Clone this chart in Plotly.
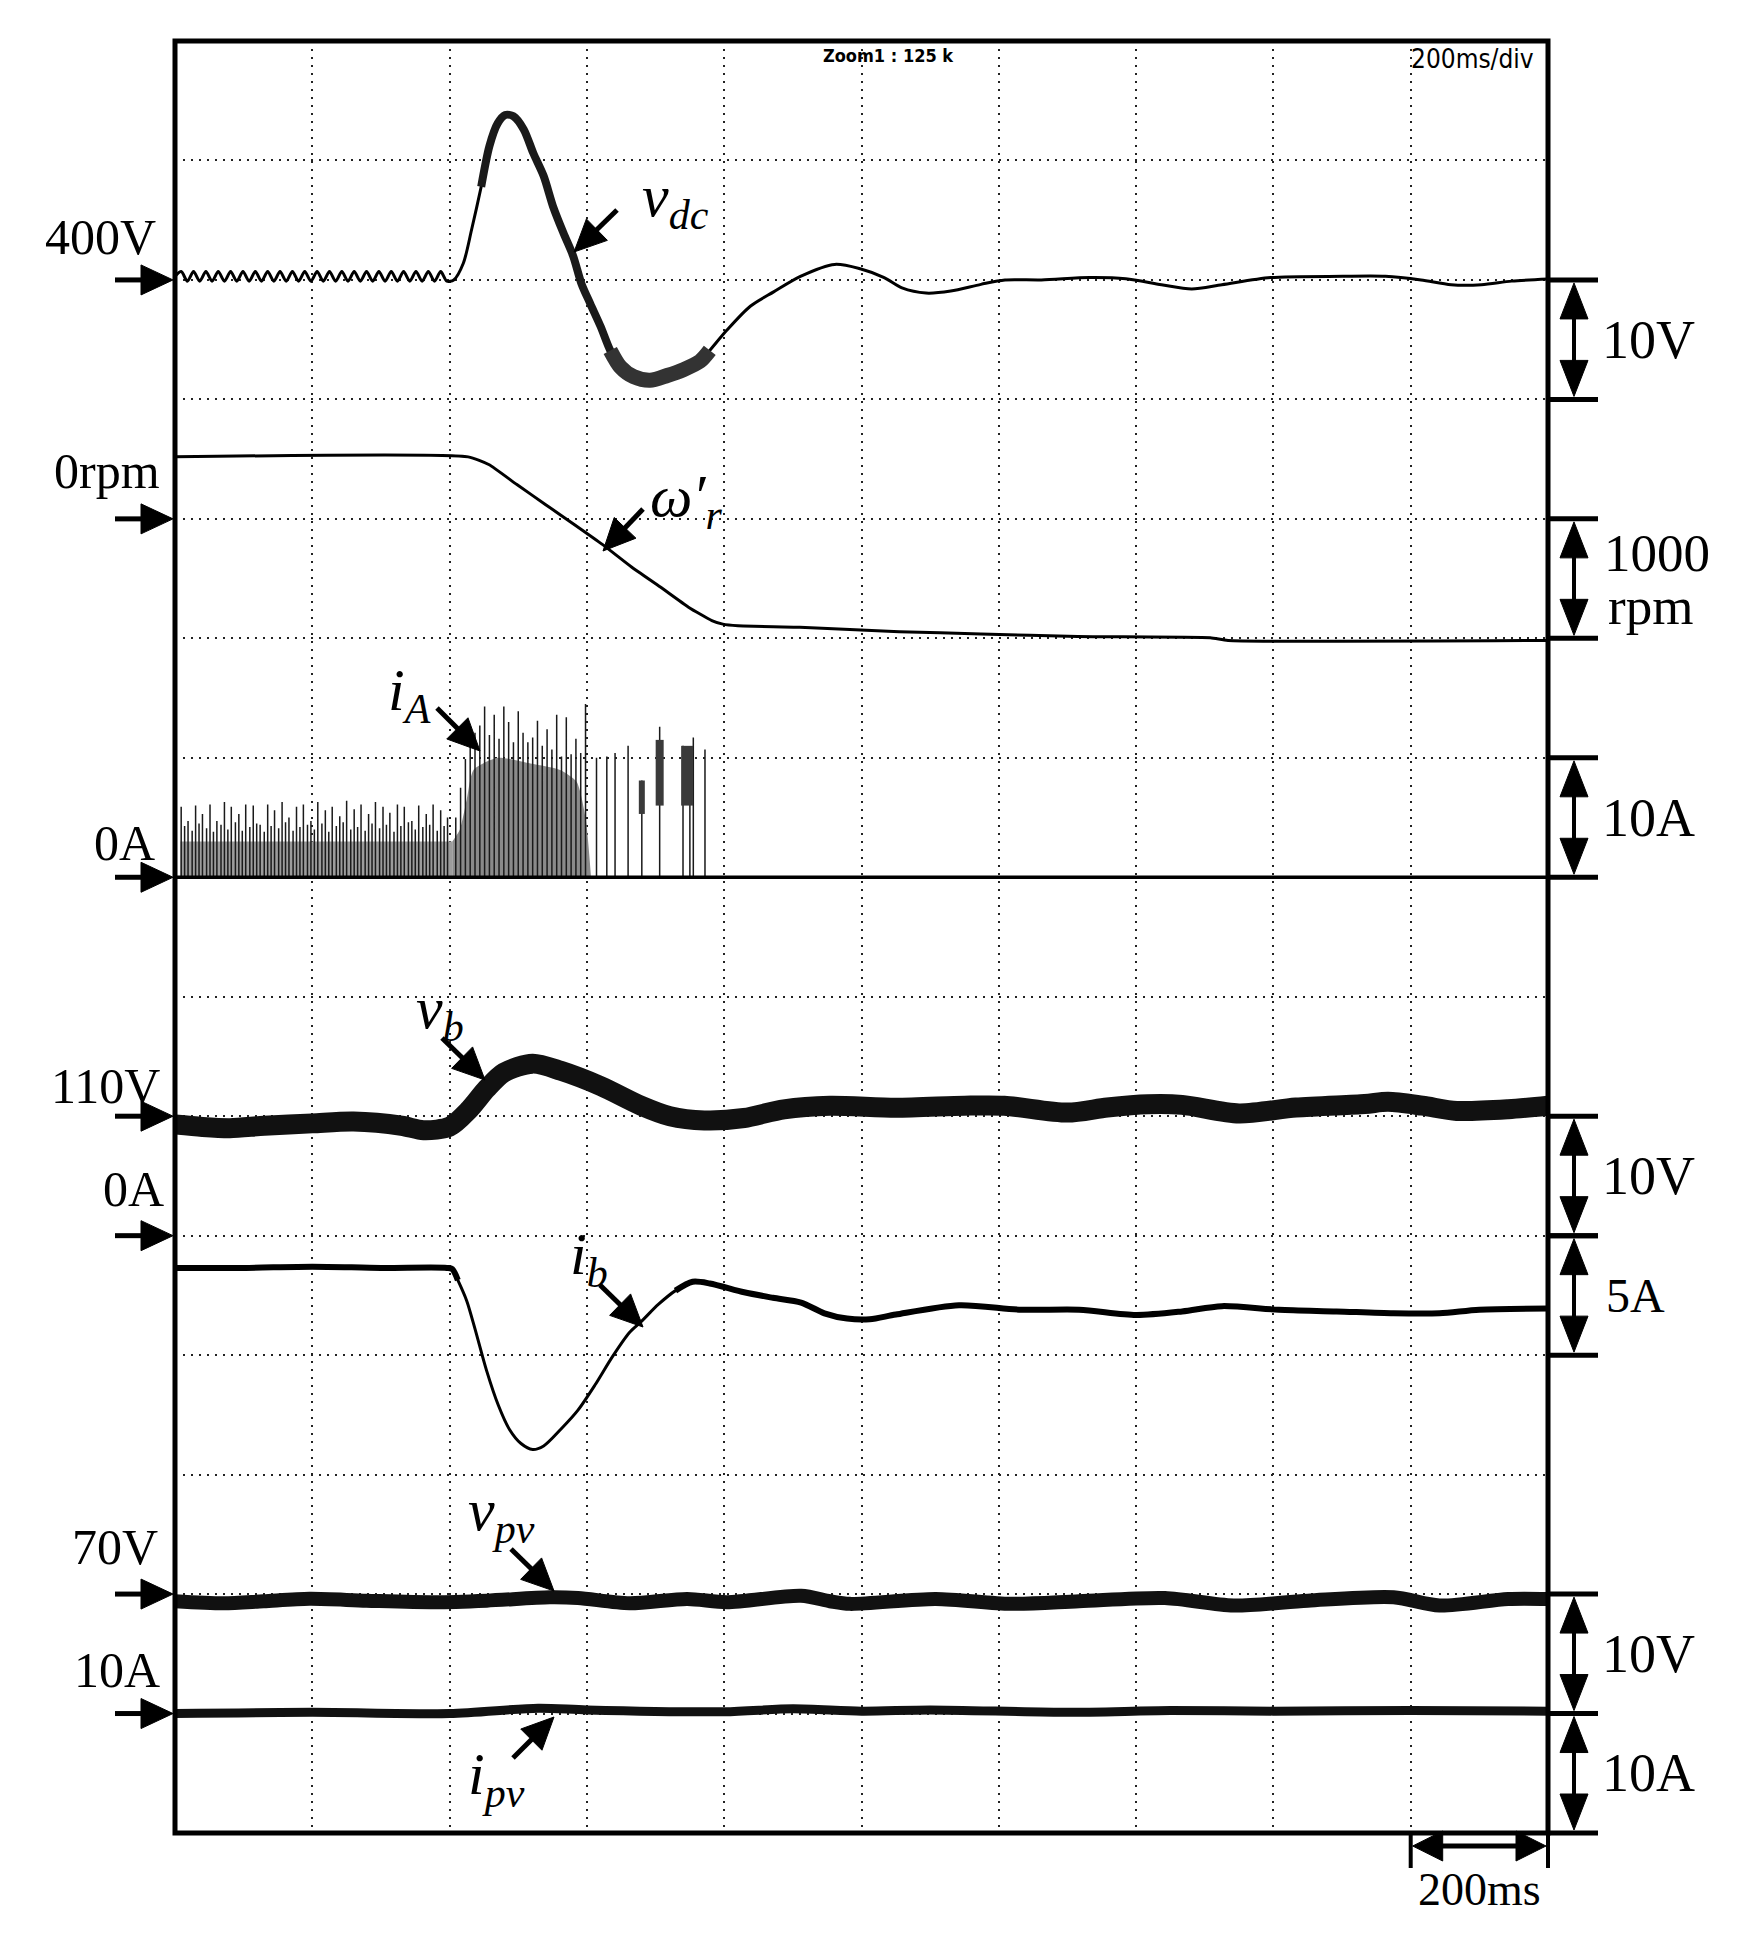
import math
import plotly.graph_objects as go

OFF = 8                                    # page body margin in the browser
W, H = 1748 - OFF, 1958 - OFF              # figure size
PL, PR, PT, PB = 175, 1548, 41, 1833      # plot box in page pixels
NX, NY = 10, 15                            # divisions
DIVPX_Y = (PB - PT) / NY

# ---------------- data (time in ms, values in physical units) ----------------
# v_dc : deviation from 400 V, 10 V/div, reference at 13 div
vdc_t = [0, 9, 18, 27, 36, 45, 54, 63, 72, 81, 90, 99, 108, 117, 126, 135, 144, 153,
         162, 171, 180, 189, 198, 207, 216, 225, 234, 243, 252, 261, 270, 279, 288,
         297, 306, 315, 324, 333, 342, 351, 360, 369, 378, 387, 396, 406,
         420, 432, 446, 458, 470, 481, 493, 508, 522, 537, 551, 566, 580, 592, 605,
         620, 634, 649, 668, 692, 717, 741, 765, 779, 804, 838, 872, 911, 961, 998,
         1033, 1059, 1094, 1130, 1174, 1209, 1262, 1332, 1385, 1437, 1481, 1525,
         1596, 1701, 1763, 1815, 1859, 1903, 1947, 2000]
vdc_v = [0.3, 0.7, -0.1, 0.7, -0.1, 0.7, -0.1, 0.7, -0.1, 0.7, -0.1, 0.7, -0.1, 0.7,
         -0.1, 0.7, -0.1, 0.7, -0.1, 0.7, -0.1, 0.7, -0.1, 0.7, -0.1, 0.7, -0.1, 0.7,
         -0.1, 0.7, -0.1, 0.7, -0.1, 0.7, -0.1, 0.7, -0.1, 0.7, -0.1, 0.7, -0.1, 0.7,
         -0.1, 0.7, -0.1, 0.0,
         1.4, 4.2, 7.8, 11.2, 13.1, 13.8, 13.7, 12.6, 10.6, 8.7, 6.1, 3.9, 2.0, -0.3,
         -2.0, -3.9, -5.9, -7.3, -8.1, -8.4, -8.0, -7.5, -6.8, -5.9, -4.2, -2.2, -1.0,
         0.3, 1.3, 0.93, 0.19, -0.67, -1.1, -0.93, -0.37, 0.0, 0.0, 0.2, 0.1, -0.4,
         -0.75, -0.4, 0.2, 0.3, 0.3, 0.0, -0.4, -0.4, -0.1, 0.07]

# omega_r : rpm, 1000 rpm/div, 0 rpm at 11 div
wr_t = [0, 427, 457, 498, 540, 582, 623, 665, 707, 748, 782, 798, 820, 910, 1055,
        1174, 1315, 1508, 1534, 2000]
wr_v = [519, 519, 455, 287, 119, -49, -216, -403, -571, -739, -851, -881, -895,
        -907, -944, -963, -985, -995, -1018, -1018]

# i_A : A, 10 A/div, 0 A at 8 div  (switching pulses: times and peak heights)
iA_pre_t = [9, 19, 30, 40, 51, 61, 72, 82, 93, 103, 114, 124, 135, 145, 156, 166,
            177, 187, 198, 208, 219, 229, 240, 250, 261, 271, 282, 292, 303, 313,
            324, 334, 345, 355, 366, 376, 387, 397]
iA_pre_h = [5.9, 4.7, 6.0, 5.3, 6.1, 4.7, 6.3, 5.9, 5.3, 6.1, 6.0, 4.4, 6.1, 5.6,
            6.3, 5.0, 5.9, 6.1, 4.7, 6.3, 5.6, 5.9, 5.1, 6.4, 5.7, 6.1, 5.3, 6.3,
            5.9, 5.4, 6.1, 5.9, 4.7, 6.0, 5.3, 6.1, 5.6, 5.0]
iA_mid_t = [14, 25, 35, 46, 56, 67, 77, 88, 98, 109, 119, 130, 140, 151, 161, 172,
            182, 193, 203, 214, 224, 235, 245, 256, 266, 277, 287, 298, 308, 319,
            329, 340, 350, 361, 371, 382, 392]
iA_mid_h = [4.3, 3.9, 4.5, 4.1, 3.8, 4.4, 4.0, 4.6, 3.9, 4.2, 4.5, 3.8, 4.3, 4.1,
            4.6, 3.9, 4.2, 4.4, 4.0, 4.5, 3.8, 4.3, 4.6, 4.0, 4.2, 3.9, 4.5, 4.1,
            4.4, 3.8, 4.3, 4.6, 4.0, 4.2, 4.4, 3.9, 4.3]
iA_post_t = [409, 416, 423, 430, 437, 444, 451, 458, 465, 472, 479, 486, 493, 500,
             507, 514, 521, 528, 535, 542, 549, 556, 563, 570, 577, 584, 591, 598,
             614, 629, 641, 660, 680, 706, 740, 750, 755, 772]
iA_post_h = [5.0, 7.5, 9.9, 11.0, 12.1, 12.7, 14.3, 11.9, 13.6, 11.6, 14.3, 13.0,
             11.3, 13.9, 12.1, 11.3, 11.7, 13.1, 11.0, 12.4, 10.7, 13.6, 10.1, 13.4,
             10.3, 11.6, 10.4, 14.5, 10.0, 10.1, 10.4, 11.0, 8.1, 12.6, 11.0, 8.7,
             11.7, 10.7]
iA_pre_env_t = [8, 400, 404]
iA_pre_env_v = [3.0, 3.0, 3.0]
iA_post_env_t = [404, 415, 425, 435, 470, 520, 560, 585, 598, 606]
iA_post_env_v = [3.0, 4.0, 6.5, 9.0, 10.0, 9.5, 9.0, 8.0, 5.0, 0.0]
# bursts after the step: time, low, high
iA_blob_t = [680, 706, 746]
iA_blob_lo = [5.3, 6.0, 6.0]
iA_blob_hi = [8.1, 11.5, 11.0]
iA_blob_w = [6, 8, 12]

# v_b : deviation from 110 V, 10 V/div, reference at 6 div
vb_t = [0, 40, 80, 130, 200, 260, 330, 362, 400, 429, 454, 479, 521, 562, 621, 679,
        721, 771, 829, 887, 954, 1050, 1150, 1208, 1300, 1358, 1417, 1467, 1550,
        1633, 1733, 1767, 1817, 1867, 1942, 2000]
vb_v = [-0.7, -0.9, -1.0, -0.8, -0.6, -0.45, -0.8, -1.17, -0.88, 0.58, 2.3, 3.65,
        4.4, 3.8, 2.5, 0.88, 0.0, -0.35, -0.15, 0.58, 0.88, 0.7, 0.88, 0.88, 0.3,
        0.73, 1.0, 0.95, 0.23, 0.73, 1.02, 1.2, 0.88, 0.44, 0.58, 0.88]

# i_b : A, 5 A/div, 0 A at 5 div
ib_t = [0, 100, 200, 300, 396, 404, 412, 425, 437, 454, 471, 487, 504, 521, 537,
        562, 587, 612, 637, 662, 679, 704, 729, 754, 779, 829, 871, 912, 946, 979,
        1012, 1050, 1142, 1233, 1317, 1400, 1467, 1525, 1608, 1692, 1775, 1842,
        1900, 2000]
ib_v = [-1.35, -1.35, -1.3, -1.35, -1.35, -1.4, -1.86, -2.73, -3.9, -5.66, -7.1,
        -8.1, -8.7, -8.95, -8.8, -8.1, -7.3, -6.24, -5.07, -4.05, -3.6, -2.88, -2.3,
        -1.93, -2.0, -2.37, -2.6, -2.8, -3.25, -3.47, -3.5, -3.3, -2.91, -3.1, -3.1,
        -3.32, -3.17, -2.95, -3.1, -3.17, -3.25, -3.25, -3.1, -3.05]

# v_pv : deviation from 70 V, 10 V/div, reference at 2 div
vpv_t = [0, 71, 129, 196, 279, 379, 454, 546, 587, 662, 746, 804, 912, 954, 983,
         1108, 1217, 1317, 1442, 1542, 1650, 1775, 1842, 1942, 2000]
vpv_v = [-0.6, -0.77, -0.6, -0.4, -0.55, -0.68, -0.55, -0.27, -0.33, -0.77, -0.41,
         -0.68, -0.14, -0.6, -0.82, -0.41, -0.82, -0.6, -0.33, -0.96, -0.55, -0.27,
         -0.96, -0.41, -0.41]

# i_pv : deviation from 10 A, 10 A/div, reference at 1 div
ipv_t = [0, 200, 400, 529, 600, 800, 900, 1000, 1100, 1300, 1450, 1600, 1800, 2000]
ipv_v = [0.0, 0.1, 0.0, 0.45, 0.3, 0.15, 0.4, 0.2, 0.3, 0.1, 0.25, 0.2, 0.25, 0.2]

# channel settings: (reference level in div from bottom, units per div)
CH = {"vdc": (13, 10), "wr": (11, 1000), "iA": (8, 10), "vb": (6, 10),
      "ib": (5, 5), "vpv": (2, 10), "ipv": (1, 10)}

left_labels = ["400V", "0rpm", "0A", "110V", "0A", "70V", "10A"]
left_keys = ["vdc", "wr", "iA", "vb", "ib", "vpv", "ipv"]
scale_labels = ["10V", "1000", "10A", "10V", "5A", "10V", "10A"]
scale_top = [13, 11, 9, 6, 5, 2, 1]


def scaled(key, vals):
    off, per = CH[key]
    return [off + v / per for v in vals]


# ---------------- helpers (page pixel -> paper) ----------------
def X(px):
    return (px - OFF) / W


def Y(py):
    return 1 - (py - OFF) / H


def div_to_py(d):
    return PB - d * DIVPX_Y


shapes = []
annotations = []


def seg(x0, y0, x1, y1, w):
    shapes.append(dict(type="line", xref="paper", yref="paper", x0=X(x0), y0=Y(y0),
                       x1=X(x1), y1=Y(y1), line=dict(color="black", width=w)))


def head(xt, yt, ux, uy, hl, hw):
    bx, by = xt - ux * hl, yt - uy * hl
    px, py = -uy, ux
    p1 = (bx + px * hw / 2, by + py * hw / 2)
    p2 = (bx - px * hw / 2, by - py * hw / 2)
    path = "M {} {} L {} {} L {} {} Z".format(X(xt), Y(yt), X(p1[0]), Y(p1[1]),
                                              X(p2[0]), Y(p2[1]))
    shapes.append(dict(type="path", xref="paper", yref="paper", path=path,
                       fillcolor="black", line=dict(color="black", width=1)))


def arrow(x0, y0, x1, y1, hl=32, hw=30, w=5):
    L = math.hypot(x1 - x0, y1 - y0)
    ux, uy = (x1 - x0) / L, (y1 - y0) / L
    seg(x0, y0, x1 - ux * (hl - 2), y1 - uy * (hl - 2), w)
    head(x1, y1, ux, uy, hl, hw)


def double_arrow(x0, y0, x1, y1, hl=34, hw=28, w=4):
    L = math.hypot(x1 - x0, y1 - y0)
    ux, uy = (x1 - x0) / L, (y1 - y0) / L
    seg(x0 + ux * (hl - 2), y0 + uy * (hl - 2), x1 - ux * (hl - 2), y1 - uy * (hl - 2), w)
    head(x1, y1, ux, uy, hl, hw)
    head(x0, y0, -ux, -uy, hl, hw)


def text(px, py, s, size, xanchor="left", family="Liberation Serif", yanchor="middle"):
    annotations.append(dict(x=X(px), y=Y(py), xref="paper", yref="paper", text=s,
                            showarrow=False, xanchor=xanchor, yanchor=yanchor,
                            font=dict(family=family, size=size, color="black")))


# ---------------- traces ----------------
fig = go.Figure()


def line(x, y, w, shape="spline", color="black", smooth=0.8):
    fig.add_trace(go.Scatter(x=x, y=y, mode="lines",
                             line=dict(color=color, width=w, shape=shape,
                                       smoothing=smooth if shape == "spline" else None),
                             hoverinfo="skip", showlegend=False))


def subset(t, y, lo, hi):
    s = [(a, b) for a, b in zip(t, y) if lo <= a <= hi]
    return [a for a, b in s], [b for a, b in s]


# v_dc
vdc_y = scaled("vdc", vdc_v)
line(vdc_t, vdc_y, 3)
line(*subset(vdc_t, vdc_y, 446, 649), 8, color="#1a1a1a")
line(*subset(vdc_t, vdc_y, 634, 779), 15, color="#333333")

# omega_r
line(wr_t, scaled("wr", wr_v), 3, smooth=0.5)

# i_A : dense switching texture (envelopes)
base = CH["iA"][0]
for env_t, env_v, col in [(iA_pre_env_t, iA_pre_env_v, "#9c9c9c"),
                          (iA_post_env_t, iA_post_env_v, "#8a8a8a")]:
    fig.add_trace(go.Scatter(x=[env_t[0], env_t[-1]], y=[base, base], mode="lines",
                             line=dict(width=0), hoverinfo="skip", showlegend=False))
    fig.add_trace(go.Scatter(x=env_t, y=scaled("iA", env_v), mode="lines",
                             line=dict(width=0, shape="spline", smoothing=0.6),
                             fill="tonexty", fillcolor=col,
                             hoverinfo="skip", showlegend=False))
# i_A : pulses
px_, py_ = [0], [base]
pulses = sorted(zip(iA_pre_t + iA_mid_t + iA_post_t, iA_pre_h + iA_mid_h + iA_post_h))
for t, h in pulses:
    px_ += [t, t, t]
    py_ += [base, base + h / CH["iA"][1], base]
px_.append(2000)
py_.append(base)
line(px_, py_, 1.5, shape="linear", color="#1a1a1a")
for t, lo, hi, w in zip(iA_blob_t, iA_blob_lo, iA_blob_hi, iA_blob_w):
    line([t, t], scaled("iA", [lo, hi]), w, shape="linear", color="#3a3a3a")
line([0, 2000], [base, base], 3.5, shape="linear")

# v_b
line(vb_t, scaled("vb", vb_v), 20, color="#111")

# i_b
ib_y = scaled("ib", ib_v)
line(ib_t, ib_y, 3)
line(*subset(ib_t, ib_y, 0, 412), 6)
line(*subset(ib_t, ib_y, 729, 2000), 6)

# v_pv, i_pv
line(vpv_t, scaled("vpv", vpv_v), 14, color="#111")
line(ipv_t, scaled("ipv", ipv_v), 9, color="#111")

# ---------------- decorations ----------------
shapes.append(dict(type="rect", xref="paper", yref="paper", x0=X(PL), x1=X(PR),
                   y0=Y(PB), y1=Y(PT), line=dict(color="black", width=5),
                   fillcolor="rgba(0,0,0,0)"))

# left reference arrows
for key in left_keys:
    yp = div_to_py(CH[key][0])
    arrow(115, yp, PL - 2, yp, hl=32, hw=30, w=5)

left_pos = [(158, 237), (162, 471), (157, 843), (162, 1086), (166, 1189),
            (160, 1547), (162, 1670)]
for lab, (x, y) in zip(left_labels, left_pos):
    text(x, y, lab, 50, xanchor="right")

# right scale bars
BX = 1574
for lab, dtop in zip(scale_labels, scale_top):
    y0, y1 = div_to_py(dtop), div_to_py(dtop - 1)
    seg(PR, y0, 1598, y0, 5)
    seg(PR, y1, 1598, y1, 5)
    double_arrow(BX, y0 + 3, BX, y1 - 3, hl=36, hw=28, w=4)
    ym = (y0 + y1) / 2
    if lab == "1000":
        text(1602, ym - 26, "1000", 53)
        text(1606, ym + 27, "rpm", 53)
    elif lab == "5A":
        text(1604, ym, "5A", 48)
    else:
        text(1600, ym, lab, 54)

# 200 ms bar
x200 = PL + (PR - PL) * (NX - 1) / NX
seg(x200, PB, x200, 1868, 4)
seg(PR, PB, PR, 1868, 4)
double_arrow(x200 + 2, 1846, PR - 2, 1846, hl=30, hw=30, w=5)
text((x200 + PR) / 2, 1889, "200ms", 46, xanchor="center")

# scope header texts
text(888, 56, "<b>Zoom1 : 125 k</b>", 18, xanchor="center",
     family="Liberation Sans Narrow, DejaVu Sans Condensed, sans-serif")
text(1472, 59, "200ms/div", 26, xanchor="center",
     family="Liberation Sans Narrow, DejaVu Sans Condensed, sans-serif")

# curve labels
text(640, 200, "<i>v<sub>dc</sub></i>", 60)
text(648, 500, "<i>ω′<sub>r</sub></i>", 60)
text(386, 694, "<i>i<sub>A</sub></i>", 60)
text(414, 1012, "<i>v<sub>b</sub></i>", 60)
text(568, 1258, "<i>i<sub>b</sub></i>", 60)
text(466, 1514, "<i>v<sub>pv</sub></i>", 60)
text(466, 1778, "<i>i<sub>pv</sub></i>", 60)

arrow(617, 210, 574, 252, hl=32, hw=30, w=5)
arrow(643, 509, 603, 551, hl=32, hw=30, w=5)
arrow(437, 708, 480, 751, hl=32, hw=30, w=5)
arrow(442, 1038, 485, 1080, hl=32, hw=30, w=5)
arrow(600, 1285, 643, 1327, hl=32, hw=30, w=5)
arrow(511, 1549, 554, 1591, hl=32, hw=30, w=5)
arrow(513, 1758, 554, 1717, hl=32, hw=30, w=5)

grid = dict(showgrid=True, gridcolor="#222", gridwidth=1.5, griddash="2px,6px",
            zeroline=False, showticklabels=False, ticks="", showline=False)

fig.update_layout(
    width=W, height=H, autosize=False,
    margin=dict(l=0, r=0, t=0, b=0, pad=0),
    paper_bgcolor="white", plot_bgcolor="white",
    xaxis=dict(range=[0, 2000], dtick=200, tick0=0,
               domain=[X(PL), X(PR)], fixedrange=True, **grid),
    yaxis=dict(range=[0, NY], dtick=1, tick0=0,
               domain=[Y(PB), Y(PT)], fixedrange=True, **grid),
    shapes=shapes, annotations=annotations, showlegend=False,
)

fig.write_html("out.html")
